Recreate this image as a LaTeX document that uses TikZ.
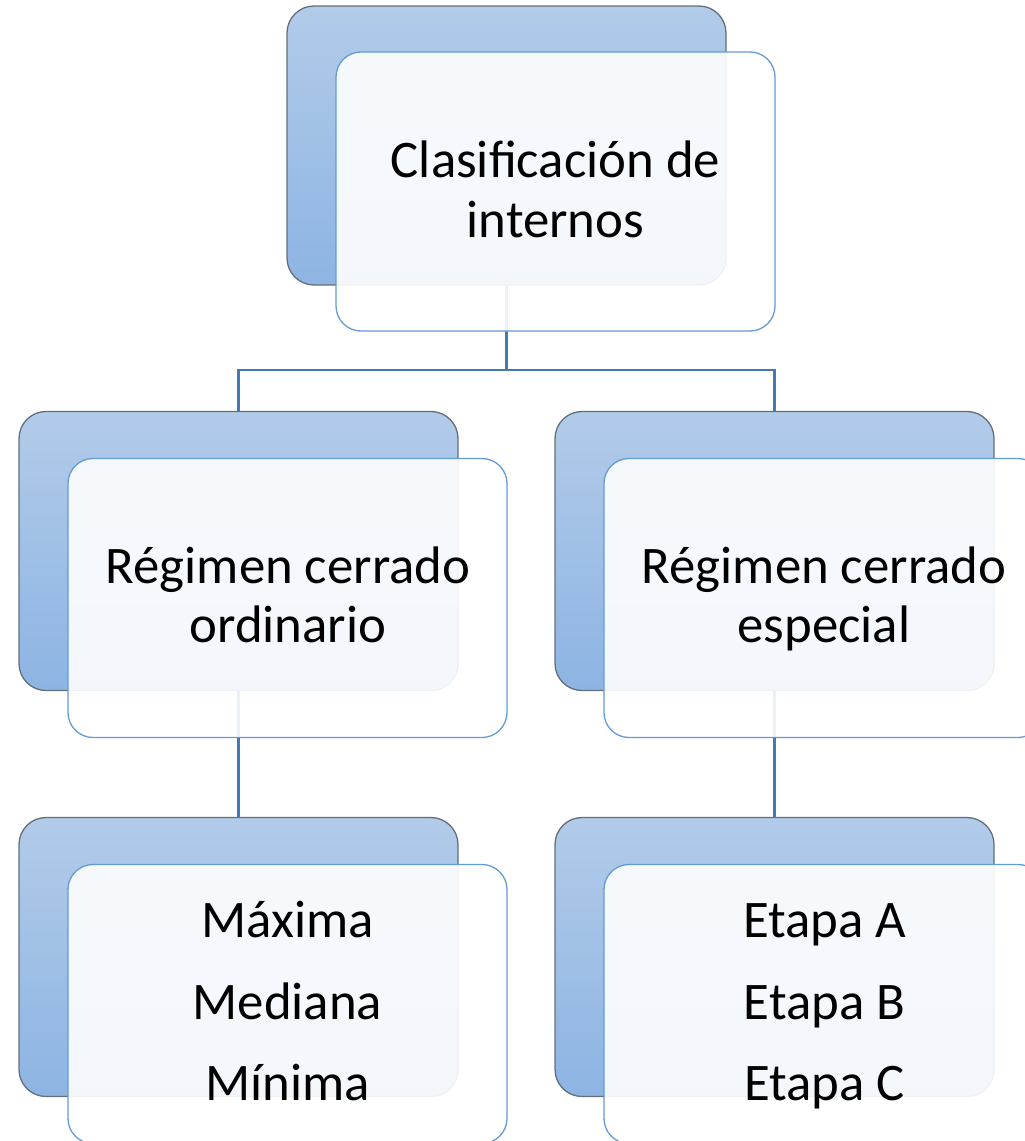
\documentclass[tikz,border=0pt]{standalone}
\usepackage{fontspec}
\setmainfont{Carlito}
\definecolor{backtop}{RGB}{178,203,233}
\definecolor{backbot}{RGB}{141,180,227}
\definecolor{backedge}{RGB}{100,110,122}
\definecolor{frontedge}{RGB}{98,155,214}
\definecolor{frontfill}{RGB}{255,255,255}
\definecolor{connc}{RGB}{70,120,180}
\begin{document}
\begin{tikzpicture}[x=1pt,y=1pt,
  backbox/.style={draw=backedge, line width=1.3pt, rounded corners=27pt,
    top color=backtop, bottom color=backbot, minimum width=439pt, minimum height=279pt,
    inner sep=0pt, outer sep=0pt},
  frontbox/.style={draw=frontedge, line width=1.3pt, rounded corners=25pt,
    fill=frontfill, fill opacity=0.9, minimum width=439pt, minimum height=279pt,
    inner sep=0pt, outer sep=0pt},
  conn/.style={draw=connc, line width=2.8pt},
  lbl/.style={anchor=base, inner sep=0pt, font=\fontsize{52.8}{60}\selectfont, text=black}]
\clip (0,0) rectangle (1025,-1141);
\useasboundingbox (0,0) rectangle (1025,-1141);
% back boxes
\node[backbox] (b0) at (506.5,-145.5) {};
\node[backbox] (b1) at (238.5,-551) {};
\node[backbox] (b2) at (774.5,-551) {};
\node[backbox] (b3) at (238.5,-957) {};
\node[backbox] (b4) at (774.5,-957) {};
% connectors
\coordinate (j0) at (506.5,-370);
\draw[conn] (b0.south) -- (j0);
\draw[conn] (b1.north) |- (j0) -| (b2.north);
\draw[conn] (b1.south) -- (b3.north);
\draw[conn] (b2.south) -- (b4.north);
% front boxes
\node[frontbox] (f0) at (555.5,-191.5) {};
\node[frontbox] (f1) at (287.5,-598) {};
\node[frontbox] (f2) at (823.5,-598) {};
\node[frontbox] (f3) at (287.5,-1004) {};
\node[frontbox] (f4) at (823.5,-1004) {};
% texts
\node[lbl] (t0a) at (555.5,-177) {Clasificación de};
\node[lbl] (t0b) at (555.5,-237) {internos};
\node[lbl] (t1a) at (288,-583) {Régimen cerrado};
\node[lbl] (t1b) at (288,-642) {ordinario};
\node[lbl] (t2a) at (824,-583) {Régimen cerrado};
\node[lbl] (t2b) at (824,-642) {especial};
\node[lbl] (t3a) at (287.5,-937) {Máxima};
\node[lbl] (t3b) at (287.5,-1019) {Mediana};
\node[lbl] (t3c) at (287.5,-1100) {Mínima};
\node[lbl] (t4a) at (824.5,-937) {Etapa A};
\node[lbl] (t4b) at (824.5,-1019) {Etapa B};
\node[lbl] (t4c) at (824.5,-1100) {Etapa C};
\end{tikzpicture}
\end{document}
